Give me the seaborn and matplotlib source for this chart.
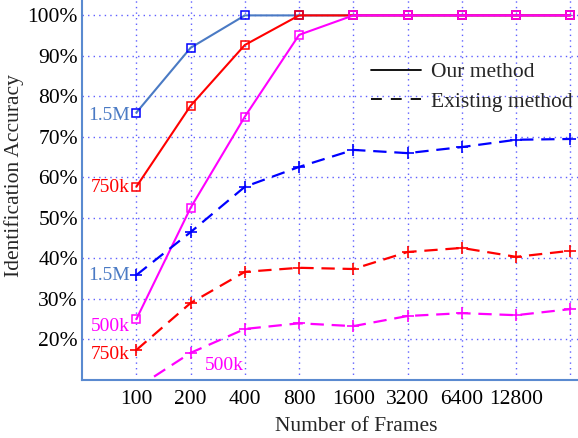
import matplotlib
matplotlib.use("Agg")
import matplotlib.pyplot as plt
import seaborn as sns
import pandas as pd
from matplotlib.lines import Line2D

frames = ["100", "200", "400", "800", "1600", "3200", "6400", "12800", "25600"]
tick_labels = ["100", "200", "400", "800", "1600", "3200", "6400", "12800", ""]

ours_15M = [76, 92, 100, 100, 100, 100, 100, 100, 100]
ours_750k = [57.7, 77.7, 92.7, 100, 100, 100, 100, 100, 100]
ours_500k = [25, 52.5, 75, 95.2, 100, 100, 100, 100, 100]
exist_15M = [35.9, 46.5, 57.7, 62.6, 66.8, 66.0, 67.5, 69.3, 69.5]
exist_750k = [17.4, 29.0, 36.7, 37.7, 37.4, 41.6, 42.6, 40.4, 41.9]
exist_500k = [8.0, 16.7, 22.6, 24.0, 23.3, 25.8, 26.5, 26.0, 27.5]

sns.set_theme(style="white")
plt.rcParams['font.family'] = ['Liberation Serif', 'DejaVu Serif']

fig = plt.figure(figsize=(5.78, 4.38), dpi=100)
ax = fig.add_axes([0.142, 0.1324, 0.858, 0.8676])

pos = list(range(len(frames)))

solid = [
    (ours_15M, '#4a7ac4', '#0000ff'),
    (ours_750k, '#ff0000', '#ff0000'),
    (ours_500k, '#ff00ff', '#ff00ff'),
]
for vals, lc, mc in solid:
    df = pd.DataFrame({'x': pos, 'y': vals})
    sns.lineplot(data=df, x='x', y='y', ax=ax, color=lc, linewidth=1.5,
                 marker='s', markersize=6, markerfacecolor='none',
                 markeredgecolor=mc, markeredgewidth=1.1, zorder=4)

dashed = [
    (exist_15M, '#0000ff'),
    (exist_750k, '#ff0000'),
    (exist_500k, '#ff00ff'),
]
for vals, c in dashed:
    df = pd.DataFrame({'x': pos, 'y': vals})
    sns.lineplot(data=df, x='x', y='y', ax=ax, color=c, linewidth=1.6,
                 marker='+', markersize=9, markeredgewidth=1.2,
                 markeredgecolor=c, markerfacecolor=c,
                 dashes=False, linestyle=(0, (6, 3.5)), zorder=4)

ax.set_xlim(-1, 8.14)
ax.set_ylim(10, 103.8)
ax.set_xticks(pos)
ax.set_xticklabels(tick_labels)
yt = [20, 30, 40, 50, 60, 70, 80, 90, 100]
ax.set_yticks(yt)
ax.set_yticklabels([f"{v}%" for v in yt])
ax.tick_params(axis='both', length=0, labelsize=15.5, colors='black')
ax.tick_params(axis='y', pad=3)
ax.tick_params(axis='x', pad=7)

ax.grid(True, color=(0.3, 0.3, 1.0), linestyle=(0, (1, 3)), linewidth=1.0, alpha=0.9)
ax.set_axisbelow(True)

for s in ['top', 'right']:
    ax.spines[s].set_visible(False)
for s in ['left', 'bottom']:
    ax.spines[s].set_color('#5a8ad0')
    ax.spines[s].set_linewidth(1.5)

ax.set_xlabel("Number of Frames", fontsize=15.5)
ax.set_ylabel("Identification Accuracy", fontsize=15.5)
ax.xaxis.set_label_coords(0.552, -0.098)
ax.yaxis.set_label_coords(-0.117, 0.537)

fs = 14
ax.text(-0.12, 75.4, "1.5M", color='#4a7ac4', ha='right', va='center', fontsize=fs)
ax.text(-0.12, 57.4, "750k", color='#ff0000', ha='right', va='center', fontsize=fs)
ax.text(-0.12, 35.9, "1.5M", color='#4a7ac4', ha='right', va='center', fontsize=fs)
ax.text(-0.12, 23.1, "500k", color='#ff00ff', ha='right', va='center', fontsize=fs)
ax.text(-0.12, 16.2, "750k", color='#ff0000', ha='right', va='center', fontsize=fs)
ax.text(1.27, 13.7, "500k", color='#ff00ff', ha='left', va='center', fontsize=fs)

handles = [Line2D([0], [0], color='black', linewidth=1.3),
           Line2D([0], [0], color='black', linewidth=1.3, linestyle=(0, (6, 5)))]
leg = ax.legend(handles, ["Our method", "Existing method"], loc='upper left',
                bbox_to_anchor=(0.566, 0.859), frameon=False, fontsize=15.5,
                handlelength=2.3, handletextpad=0.45, labelspacing=0.45,
                borderaxespad=0)

fig.savefig("out.png", dpi=100)
